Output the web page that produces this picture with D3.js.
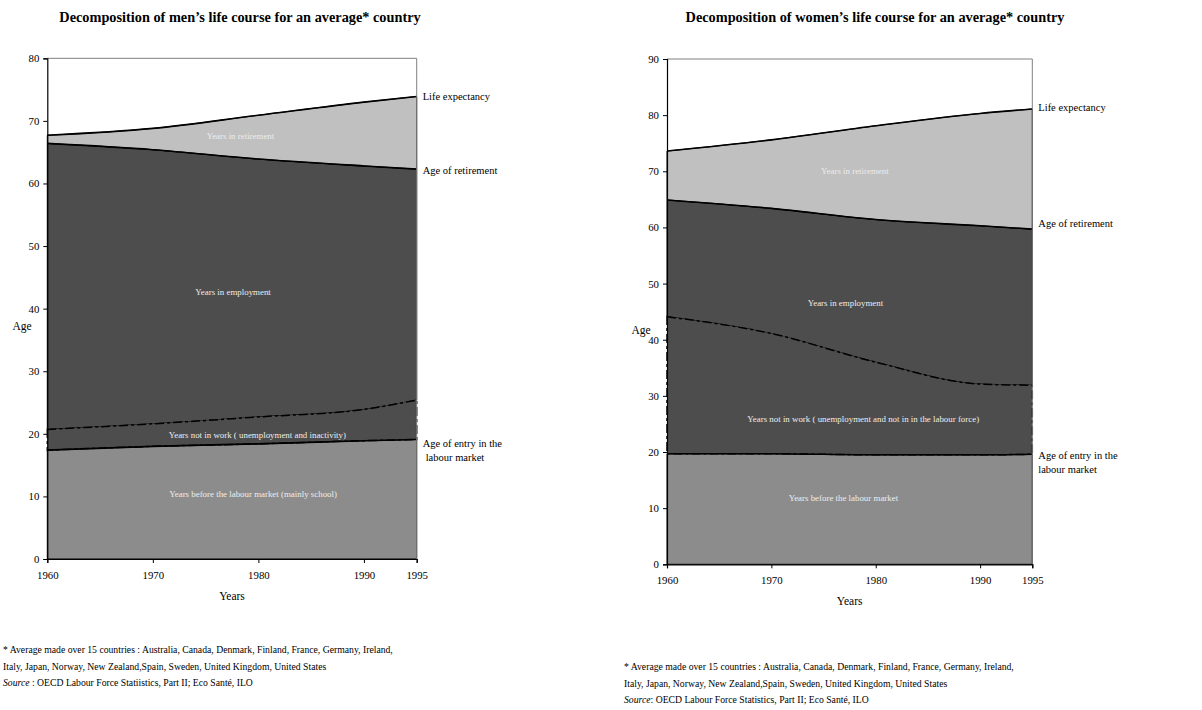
<!DOCTYPE html>
<html>
<head>
<meta charset="utf-8">
<script src="https://cdn.jsdelivr.net/npm/d3@7"></script>
<style>
  body { margin: 0; background: #fff; }
  svg text { font-family: "Liberation Serif", "Times New Roman", serif; }
</style>
</head>
<body>
<div id="chart"></div>
<script>
// Data
const years = [1960, 1970, 1980, 1990, 1995]
const xTicks = [1960, 1970, 1980, 1990, 1995]

const menEntry = [17.4, 18.0, 18.4, 18.9, 19.1]
const menNotWorkTop = [20.7, 21.6, 22.7, 23.9, 25.4]
const menRetirement = [66.4, 65.4, 63.9, 62.8, 62.3]
const menLife = [67.7, 68.8, 70.9, 73.0, 73.9]

const womenEntry = [19.7, 19.7, 19.5, 19.5, 19.6]
const womenNotWorkTop = [44.1, 41.1, 36.0, 32.1, 31.9]
const womenRetirement = [64.9, 63.4, 61.4, 60.3, 59.7]
const womenLife = [73.6, 75.6, 78.1, 80.3, 81.1]

const footLines1 = [
  '* Average made over 15 countries : Australia, Canada, Denmark, Finland, France, Germany, Ireland,',
  'Italy, Japan, Norway, New Zealand,Spain, Sweden, United Kingdom, United States'
]
const footLines2 = [
  '* Average made over 15 countries : Australia, Canada, Denmark, Finland, France, Germany, Ireland,',
  'Italy, Japan, Norway, New Zealand,Spain, Sweden, United Kingdom, United States'
]

const svg = d3.select('#chart')
  .append('svg')
  .attr('width', 1202)
  .attr('height', 710)

function drawChart(cfg) {
  const rows = years.map((yr, i) => ({
    year: yr,
    entry: cfg.entry[i],
    notWork: cfg.notWork[i],
    retire: cfg.retire[i],
    life: cfg.life[i]
  }))

  const xScale = d3.scaleLinear()
    .domain([1960, 1995])
    .range([cfg.left, cfg.right])

  const yScale = d3.scaleLinear()
    .domain([0, cfg.yMax])
    .range([cfg.bottom, cfg.top])

  const g = svg.append('g')
  const curve = d3.curveMonotoneX

  const band = (lo, hi) => d3.area()
    .x(d => xScale(d.year))
    .y0(d => yScale(lo(d)))
    .y1(d => yScale(hi(d)))
    .curve(curve)

  // Areas
  g.append('path').datum(rows)
    .attr('d', band(d => 0, d => d.entry))
    .attr('fill', '#8c8c8c')
    .attr('stroke', '#000').attr('stroke-width', 1)

  g.append('path').datum(rows)
    .attr('d', band(d => d.notWork, d => d.retire))
    .attr('fill', '#4d4d4d')
    .attr('stroke', '#000').attr('stroke-width', 1)

  g.append('path').datum(rows)
    .attr('d', band(d => d.entry, d => d.notWork))
    .attr('fill', '#4d4d4d')
    .attr('stroke', '#000').attr('stroke-width', 1.5)
    .attr('stroke-dasharray', '9,3,3,3')

  g.append('path').datum(rows)
    .attr('d', band(d => d.retire, d => d.life))
    .attr('fill', '#c0c0c0')
    .attr('stroke', '#000').attr('stroke-width', 1)

  // Lines
  const line = acc => d3.line()
    .x(d => xScale(d.year))
    .y(d => yScale(acc(d)))
    .curve(curve)

  ;[d => d.life, d => d.retire, d => d.entry].forEach(acc => {
    g.append('path').datum(rows)
      .attr('d', line(acc))
      .attr('fill', 'none')
      .attr('stroke', '#000')
      .attr('stroke-width', 1.6)
  })

  // Plot border (top, right)
  g.append('path')
    .attr('d', `M${cfg.left},${cfg.top}H${cfg.right}V${cfg.bottom}`)
    .attr('fill', 'none')
    .attr('stroke', '#808080')
    .attr('stroke-width', 1)

  // Axes
  const yAxis = d3.axisLeft(yScale)
    .tickValues(d3.range(0, cfg.yMax + 1, 10))
    .tickSize(4)
    .tickPadding(4)

  const yAxisGroup = g.append('g')
    .attr('transform', `translate(${cfg.left},0)`)
    .call(yAxis)

  const xAxis = d3.axisBottom(xScale)
    .tickValues(xTicks)
    .tickFormat(d3.format('d'))
    .tickSize(4)
    .tickPadding(8)

  const xAxisGroup = g.append('g')
    .attr('transform', `translate(0,${cfg.bottom})`)
    .call(xAxis)

  ;[yAxisGroup, xAxisGroup].forEach(ax => {
    ax.select('.domain').attr('stroke', '#000').attr('stroke-width', 1.2)
    ax.selectAll('.tick line').attr('stroke', '#000')
    ax.selectAll('.tick text')
      .attr('fill', '#000')
      .style('font-size', '10.8px')
      .style('font-family', '"Liberation Serif", serif')
  })

  // Titles
  g.append('text')
    .attr('x', cfg.titleX).attr('y', 17)
    .attr('dy', '0.35em')
    .attr('text-anchor', 'middle')
    .style('font-size', '14.3px')
    .style('font-weight', 'bold')
    .text(cfg.title)

  g.append('text')
    .attr('x', cfg.ageX).attr('y', cfg.ageY)
    .attr('dy', '0.35em')
    .attr('text-anchor', 'middle')
    .style('font-size', '11.5px')
    .text('Age')

  g.append('text')
    .attr('x', (cfg.left + cfg.right) / 2).attr('y', cfg.bottom + 37)
    .attr('dy', '0.35em')
    .attr('text-anchor', 'middle')
    .style('font-size', '11.5px')
    .text('Years')

  // Right-hand labels
  const last = rows[rows.length - 1]
  const lx = cfg.right + 6
  const side = [
    { t: 'Life expectancy', y: yScale(last.life) + cfg.lifeDy, x: lx },
    { t: 'Age of retirement', y: yScale(last.retire) + cfg.retireDy, x: lx },
    { t: 'Age of entry in the', y: yScale(last.entry) + cfg.entryDy, x: lx },
    { t: 'labour market', y: yScale(last.entry) + cfg.entryDy + 14, x: lx + cfg.labourDx }
  ]
  g.selectAll('text.side')
    .data(side)
    .join('text')
    .classed('side', true)
    .attr('x', d => d.x)
    .attr('y', d => d.y)
    .attr('dy', '0.35em')
    .style('font-size', '10.5px')
    .text(d => d.t)

  // Area labels
  g.selectAll('text.inner')
    .data(cfg.inner)
    .join('text')
    .classed('inner', true)
    .attr('x', d => xScale(d.year))
    .attr('y', d => yScale(d.v))
    .attr('dy', '0.35em')
    .attr('text-anchor', 'middle')
    .attr('fill', '#ececec')
    .style('font-size', '8.9px')
    .text(d => d.t)

  // Footnotes
  const foot = g.append('text')
    .style('font-size', '9.7px')
  cfg.foot.forEach((t, i) => {
    foot.append('tspan')
      .attr('x', cfg.footX)
      .attr('y', cfg.footY + i * 16.5)
      .attr('dy', '0.35em')
      .text(t)
  })
  const src = foot.append('tspan')
    .attr('x', cfg.footX)
    .attr('y', cfg.footY + 2 * 16.5)
    .attr('dy', '0.35em')
  src.append('tspan').style('font-style', 'italic').text('Source')
  src.append('tspan').text(cfg.source)
}

drawChart({
  entry: menEntry, notWork: menNotWorkTop, retire: menRetirement, life: menLife,
  yMax: 80, left: 47.3, right: 416.7, top: 58.3, bottom: 559,
  title: 'Decomposition of men\u2019s life course for an average* country',
  titleX: 240, ageX: 22, ageY: 326,
  lifeDy: 0, retireDy: 1.5, entryDy: 3.5, labourDx: 3,
  inner: [
    { t: 'Years in retirement', year: 1978.3, v: 67.6 },
    { t: 'Years in employment', year: 1977.6, v: 42.7 },
    { t: 'Years not in work ( unemployment and inactivity)', year: 1979.9, v: 19.8 },
    { t: 'Years before the labour market (mainly school)', year: 1979.5, v: 10.4 }
  ],
  foot: footLines1, footX: 3, footY: 650,
  source: ' : OECD Labour Force Statiistics, Part II; Eco Sant\u00e9, ILO'
})

drawChart({
  entry: womenEntry, notWork: womenNotWorkTop, retire: womenRetirement, life: womenLife,
  yMax: 90, left: 667, right: 1032.3, top: 59, bottom: 564.3,
  title: 'Decomposition of women\u2019s life course for an average* country',
  titleX: 875, ageX: 641, ageY: 330,
  lifeDy: -1.5, retireDy: -6, entryDy: 1, labourDx: 0,
  inner: [
    { t: 'Years in retirement', year: 1978.0, v: 70.1 },
    { t: 'Years in employment', year: 1977.1, v: 46.5 },
    { t: 'Years not in work ( unemployment and not in in the labour force)', year: 1978.8, v: 25.9 },
    { t: 'Years before the labour market', year: 1976.9, v: 11.9 }
  ],
  foot: footLines2, footX: 624, footY: 667,
  source: ':  OECD Labour Force Statistics, Part II; Eco Sant\u00e9, ILO'
})
</script>
</body>
</html>
